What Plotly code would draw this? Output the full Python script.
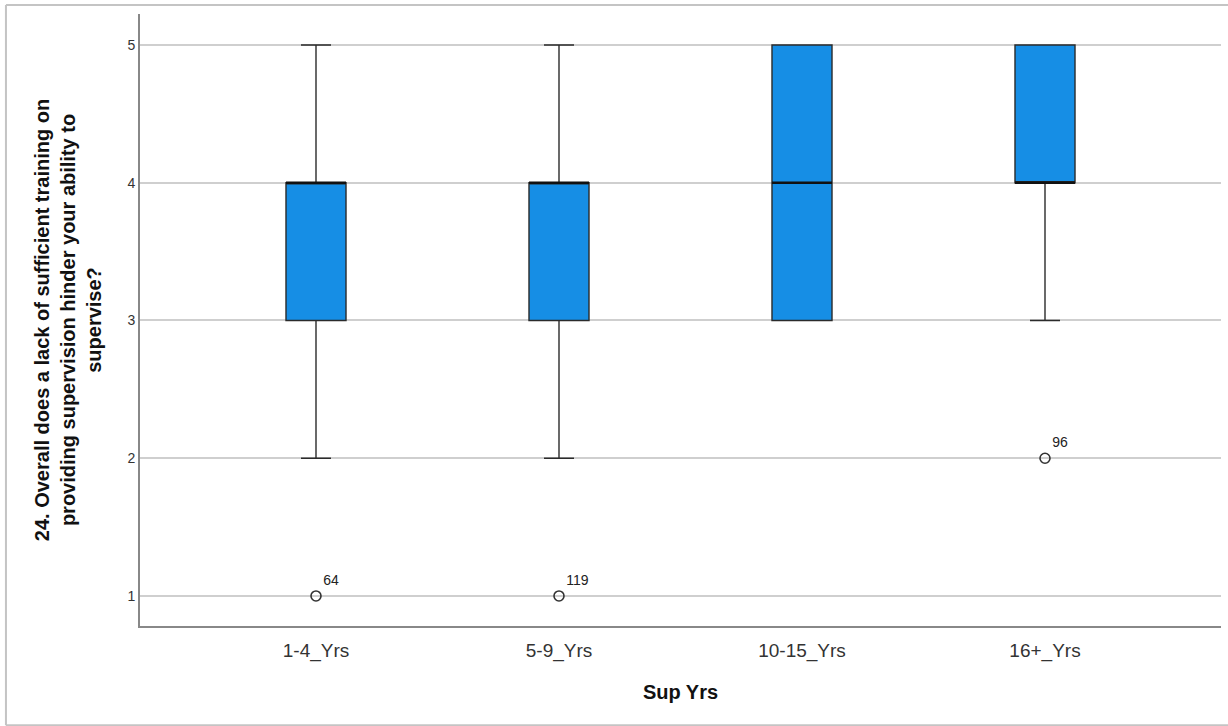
import plotly.graph_objects as go

categories = ["1-4_Yrs", "5-9_Yrs", "10-15_Yrs", "16+_Yrs"]
q1 = [3, 3, 3, 4]
median = [4, 4, 4, 4]
q3 = [4, 4, 5, 5]
lower_whisker = [2, 2, 3, 3]
upper_whisker = [5, 5, 5, 5]
outlier_cats = ["1-4_Yrs", "5-9_Yrs", "16+_Yrs"]
outlier_vals = [1, 1, 2]
outlier_ids = ["64", "119", "96"]
y_ticks = [1, 2, 3, 4, 5]

BOX_FILL = "#168ee5"
EDGE = "#2b2b2b"
FONT = "Liberation Sans, Arial, sans-serif"

fig = go.Figure()
fig.add_trace(go.Box(
    x=categories, q1=q1, median=median, q3=q3,
    lowerfence=lower_whisker, upperfence=upper_whisker,
    fillcolor=BOX_FILL, line=dict(color=EDGE, width=1.4),
    width=0.247, whiskerwidth=0.5, boxpoints=False, showlegend=False,
))
# thicker median lines
for i, m in enumerate(median):
    fig.add_shape(type="line", xref="x", yref="y",
                  x0=i - 0.1235, x1=i + 0.1235, y0=m, y1=m,
                  line=dict(color="#111", width=2.6))

fig.add_trace(go.Scatter(
    x=outlier_cats, y=outlier_vals, mode="markers+text",
    text=outlier_ids, textposition="top right",
    textfont=dict(family=FONT, size=14, color="#222"),
    marker=dict(symbol="circle-open", size=10, color="#333", line=dict(width=1.6)),
    showlegend=False,
))

fig.update_layout(
    width=1228, height=726,
    margin=dict(l=140, r=7, t=14, b=100),
    paper_bgcolor="white", plot_bgcolor="white",
    font=dict(family=FONT, color="#222"),
    xaxis=dict(
        type="category", categoryorder="array", categoryarray=categories,
        range=[-0.7243, 3.7243],
        showgrid=False, zeroline=False,
        showline=True, linecolor="#888", linewidth=2,
        ticks="outside", ticklen=6, tickcolor="rgba(0,0,0,0)",
        tickfont=dict(size=19, color="#333"),
        title=dict(text="<b>Sup Yrs</b>", font=dict(size=20, color="#111"), standoff=24),
    ),
    yaxis=dict(
        range=[0.782, 5.225],
        tickvals=y_ticks, ticktext=[str(v) for v in y_ticks],
        showgrid=True, gridcolor="#cfcfcf", gridwidth=1.5,
        zeroline=False,
        showline=True, linecolor="#888", linewidth=2,
        ticks="", tickfont=dict(size=14, color="#333"),
        title=dict(
            text="<b>24. Overall does a lack of sufficient training on<br>providing supervision hinder your ability to<br>supervise?</b>",
            font=dict(size=20, color="#111"), standoff=20,
        ),
    ),
)

# outer frame (light gray)
for x0, y0, x1, y1 in [(-0.124, -0.162, -0.124, 1.0147), (-0.124, 1.0147, 1.0065, 1.0147),
                       (-0.124, -0.162, 1.0065, -0.162)]:
    fig.add_shape(type="line", xref="paper", yref="paper", x0=x0, y0=y0, x1=x1, y1=y1,
                  line=dict(color="#c4c4c4", width=2))

fig.write_html("out.html")
